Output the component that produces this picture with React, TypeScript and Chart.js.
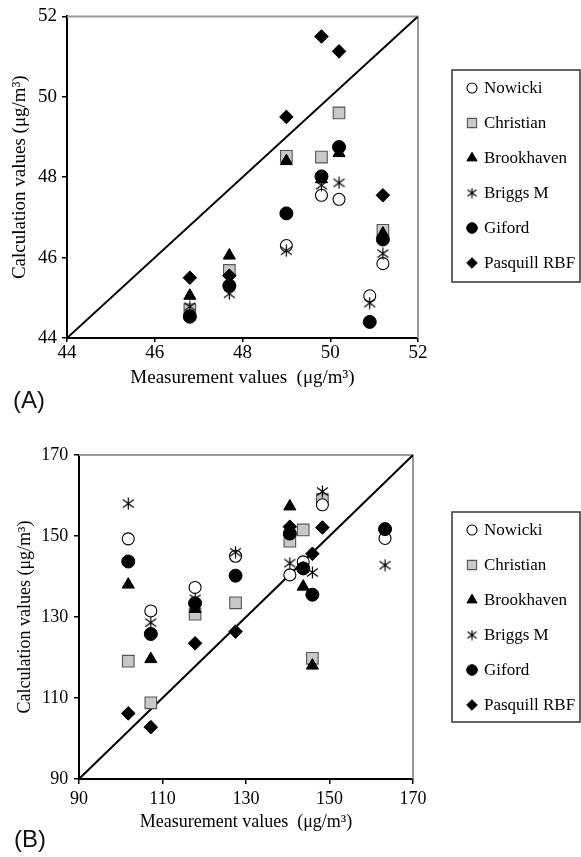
import React, { useEffect, useRef } from 'react';
import { Chart, registerables } from 'chart.js';
import { drawPoint } from 'chart.js/helpers';

Chart.register(...registerables);

// ---------- DATA ----------
const SERIES_NAMES = ['Nowicki', 'Christian', 'Brookhaven', 'Briggs M', 'Giford', 'Pasquill RBF'];

// Panel (A)
const A_X = [46.8, 47.7, 49.0, 49.8, 50.2, 50.9, 51.2];
const A_NOWICKI = [44.55, 45.3, 46.3, 47.55, 47.45, 45.05, 45.85];
const A_CHRISTIAN = [44.7, 45.68, 48.52, 48.5, 49.6, null, 46.68];
const A_BROOKHAVEN = [45.05, 46.05, 48.4, 47.95, 48.6, null, 46.6];
const A_BRIGGS = [44.78, 45.1, 46.17, 47.8, 47.86, 44.87, 46.1];
const A_GIFORD = [44.53, 45.3, 47.1, 48.02, 48.75, 44.4, 46.45];
const A_PASQUILL = [45.5, 45.55, 49.5, 51.5, 51.13, null, 47.55];
const A_TICKS = [44, 46, 48, 50, 52];

// Panel (B)
const B_X = [101.8, 107.2, 117.8, 127.5, 140.5, 143.7, 145.9, 148.3, 163.3];
const B_NOWICKI = [149.3, 131.5, 137.3, 145, 140.4, 143.6, null, 157.7, 149.4];
const B_CHRISTIAN = [119.1, 108.8, 130.7, 133.5, 148.7, 151.5, 119.8, 159.0, null];
const B_BROOKHAVEN = [138, 119.6, 132, null, 157.3, 137.5, 118, null, null];
const B_BRIGGS = [158, 128.6, 134.5, 146, 143.3, 142.2, 141, 161, 142.8];
const B_GIFORD = [143.7, 125.8, 133.4, 140.2, 150.6, 142, 135.5, null, 151.7];
const B_PASQUILL = [106.2, 102.8, 123.5, 126.4, 152.3, null, 145.6, 152.1, null];
const B_TICKS = [90, 110, 130, 150, 170];

const X_TITLE = 'Measurement values  (\u03BCg/m\u00B3)';
const Y_TITLE = 'Calculation values (\u03BCg/m\u00B3)';

// ---------- STYLES ----------
const SERIF = '"Liberation Serif", "Times New Roman", serif';

// drawing order (lower = on top)
const DRAW_ORDER = [5, 6, 4, 3, 2, 1];

type MarkStyle = { style: string; radius: number; bg: string; border: string; bw: number; lr: number };
const MARKS: MarkStyle[] = [
  { style: 'circle', radius: 6, bg: '#ffffff', border: '#000000', bw: 1.1, lr: 5 },
  { style: 'rect', radius: 8.2, bg: '#c8c8c8', border: '#555555', bw: 1.1, lr: 6.5 },
  { style: 'triangle', radius: 7, bg: '#000000', border: '#000000', bw: 1, lr: 5.8 },
  { style: 'asterisk', radius: 6, bg: '#000000', border: '#000000', bw: 1, lr: 5 },
  { style: 'circle', radius: 6.5, bg: '#000000', border: '#000000', bw: 1, lr: 5.3 },
  { style: 'rectRot', radius: 6.8, bg: '#000000', border: '#000000', bw: 1, lr: 5.3 },
];

function makeAsterisk(size: number): HTMLCanvasElement {
  const c = document.createElement('canvas');
  c.width = size;
  c.height = size;
  const g = c.getContext('2d')!;
  const m = size / 2;
  g.strokeStyle = '#000';
  g.lineWidth = 1.2;
  g.beginPath();
  g.moveTo(m, 0.5);
  g.lineTo(m, size - 0.5);
  g.moveTo(1, size * 0.2);
  g.lineTo(size - 1, size * 0.8);
  g.moveTo(1, size * 0.8);
  g.lineTo(size - 1, size * 0.2);
  g.stroke();
  return c;
}

type PanelCfg = {
  xs: number[];
  series: (number | null)[][];
  ticks: number[];
  min: number;
  max: number;
  height: number;
  pad: { left: number; top: number; right: number; bottom: number };
  yWidth: number;
  xHeight: number;
  tickFont: number;
  titleFont: number;
  xTickPad: number;
  xTickLen: number;
  yTickPad: number;
  xTitlePadBottom: number;
  yTitlePadTop: number;
  legend: { left: number; top: number; right: number; bottom: number; firstY: number; step: number; markX: number; textX: number; font: number };
};

const PANEL_A: PanelCfg = {
  xs: A_X,
  series: [A_NOWICKI, A_CHRISTIAN, A_BROOKHAVEN, A_BRIGGS, A_GIFORD, A_PASQUILL],
  ticks: A_TICKS,
  min: 44,
  max: 52,
  height: 420,
  pad: { left: 0, top: 14, right: 163, bottom: 0 },
  yWidth: 67,
  xHeight: 82,
  tickFont: 19,
  titleFont: 19,
  xTickPad: 0,
  xTickLen: 4,
  yTickPad: 5,
  xTitlePadBottom: 30.6,
  yTitlePadTop: 8.6,
  legend: { left: 452, top: 70, right: 580, bottom: 282, firstY: 88, step: 35, markX: 472, textX: 484, font: 17 },
};

const PANEL_B: PanelCfg = {
  xs: B_X,
  series: [B_NOWICKI, B_CHRISTIAN, B_BROOKHAVEN, B_BRIGGS, B_GIFORD, B_PASQUILL],
  ticks: B_TICKS,
  min: 90,
  max: 170,
  height: 437,
  pad: { left: 0, top: 35, right: 168, bottom: 0 },
  yWidth: 79,
  xHeight: 78,
  tickFont: 18,
  titleFont: 18,
  xTickPad: 4,
  xTickLen: 5,
  yTickPad: 5.7,
  xTitlePadBottom: 24.2,
  yTitlePadTop: 14.7,
  legend: { left: 452, top: 92, right: 580, bottom: 302, firstY: 110, step: 35, markX: 472, textX: 484, font: 17 },
};

const framePlugin = {
  id: 'greyFrame',
  beforeDatasetsDraw(chart: any) {
    const { ctx, chartArea } = chart;
    ctx.save();
    ctx.strokeStyle = '#999999';
    ctx.lineWidth = 2;
    ctx.beginPath();
    ctx.moveTo(chartArea.left, chartArea.top);
    ctx.lineTo(chartArea.right, chartArea.top);
    ctx.lineTo(chartArea.right, chartArea.bottom);
    ctx.stroke();
    ctx.restore();
  },
};

const legendPlugin = {
  id: 'boxLegend',
  afterDraw(chart: any, _args: any, opts: any) {
    const { ctx } = chart;
    const L = opts.layout;
    const star = opts.star;
    ctx.save();
    ctx.strokeStyle = '#333333';
    ctx.lineWidth = 1.5;
    ctx.strokeRect(L.left, L.top, L.right - L.left, L.bottom - L.top);
    ctx.font = `${L.font}px ${SERIF}`;
    ctx.textBaseline = 'middle';
    ctx.textAlign = 'left';
    SERIES_NAMES.forEach((name, i) => {
      const m = MARKS[i];
      const y = L.firstY + i * L.step;
      ctx.fillStyle = m.bg;
      ctx.strokeStyle = m.border;
      ctx.lineWidth = m.bw;
      if (m.style === 'asterisk') {
        ctx.drawImage(star.small, L.markX - star.small.width / 2, y - star.small.height / 2);
      } else {
        drawPoint(ctx, { pointStyle: m.style, radius: m.lr, borderWidth: m.bw, rotation: 0 } as any, L.markX, y);
      }
      ctx.fillStyle = '#000';
      ctx.fillText(name, L.textX, y + 1);
    });
    ctx.restore();
  },
};

function buildConfig(p: PanelCfg, star: { big: HTMLCanvasElement; small: HTMLCanvasElement }): any {
  const tickFont = { family: SERIF, size: p.tickFont };
  const titleFont = { family: SERIF, size: p.titleFont };
  const datasets: any[] = SERIES_NAMES.map((name, i) => {
    const m = MARKS[i];
    const vals = p.series[i];
    const data = p.xs
      .map((x, j) => ({ x, y: vals[j] }))
      .filter((d) => d.y !== null && d.y !== undefined);
    return {
      label: name,
      data,
      showLine: false,
      pointStyle: m.style === 'asterisk' ? star.big : m.style,
      pointRadius: m.radius,
      pointHoverRadius: m.radius,
      pointBackgroundColor: m.bg,
      pointBorderColor: m.border,
      pointBorderWidth: m.bw,
      order: DRAW_ORDER[i],
    };
  });
  datasets.push({
    label: 'diagonal',
    data: [
      { x: p.min, y: p.min },
      { x: p.max, y: p.max },
    ],
    showLine: true,
    borderColor: '#000000',
    borderWidth: 2,
    pointRadius: 0,
    order: 100,
  });

  const axisCommon = (isX: boolean) => ({
    type: 'linear',
    min: p.min,
    max: p.max,
    afterBuildTicks: (s: any) => {
      s.ticks = p.ticks.map((v) => ({ value: v }));
    },
    ticks: {
      color: '#000',
      font: tickFont,
      autoSkip: false,
      maxRotation: 0,
      padding: isX ? p.xTickPad : p.yTickPad,
      callback: (v: any) => String(v),
    },
    grid: {
      display: true,
      drawOnChartArea: false,
      drawTicks: true,
      tickLength: isX ? p.xTickLen : 5,
      color: '#000',
      lineWidth: 1.5,
    },
    border: { display: true, color: '#000', width: 2 },
    title: {
      display: true,
      text: isX ? X_TITLE : Y_TITLE,
      color: '#000',
      font: titleFont,
      padding: isX ? { top: 0, bottom: p.xTitlePadBottom } : { top: p.yTitlePadTop, bottom: 0 },
    },
    afterFit: (s: any) => {
      if (isX) s.height = p.xHeight;
      else s.width = p.yWidth;
    },
  });

  return {
    type: 'scatter',
    data: { datasets },
    options: {
      responsive: false,
      maintainAspectRatio: false,
      animation: false,
      devicePixelRatio: 1,
      layout: { padding: p.pad },
      scales: { x: axisCommon(true), y: axisCommon(false) },
      plugins: {
        legend: { display: false },
        tooltip: { enabled: false },
        boxLegend: { layout: p.legend, star },
      },
      events: [],
    },
    plugins: [framePlugin, legendPlugin],
  };
}

export default function App() {
  const refA = useRef<HTMLCanvasElement>(null);
  const refB = useRef<HTMLCanvasElement>(null);

  useEffect(() => {
    const star = { big: makeAsterisk(13), small: makeAsterisk(11) };
    const ca = new Chart(refA.current!, buildConfig(PANEL_A, star));
    const cb = new Chart(refB.current!, buildConfig(PANEL_B, star));
    return () => {
      ca.destroy();
      cb.destroy();
    };
  }, []);

  const label: React.CSSProperties = {
    position: 'absolute',
    fontFamily: '"Liberation Sans", Arial, sans-serif',
    fontSize: 24,
    lineHeight: '24px',
    color: '#111',
    whiteSpace: 'nowrap',
  };

  return (
    <div style={{ position: 'absolute', left: 0, top: 0, width: 581, height: 857, background: '#fff', overflow: 'hidden' }}>
      <div style={{ position: 'absolute', left: 0, top: 0, width: 581, height: 420 }}>
        <canvas ref={refA} width={581} height={420} style={{ display: 'block' }} />
      </div>
      <div style={{ position: 'absolute', left: 0, top: 420, width: 581, height: 437 }}>
        <canvas ref={refB} width={581} height={437} style={{ display: 'block' }} />
      </div>
      <div style={{ ...label, left: 13, top: 388 }}>(A)</div>
      <div style={{ ...label, left: 14, top: 827 }}>(B)</div>
    </div>
  );
}
